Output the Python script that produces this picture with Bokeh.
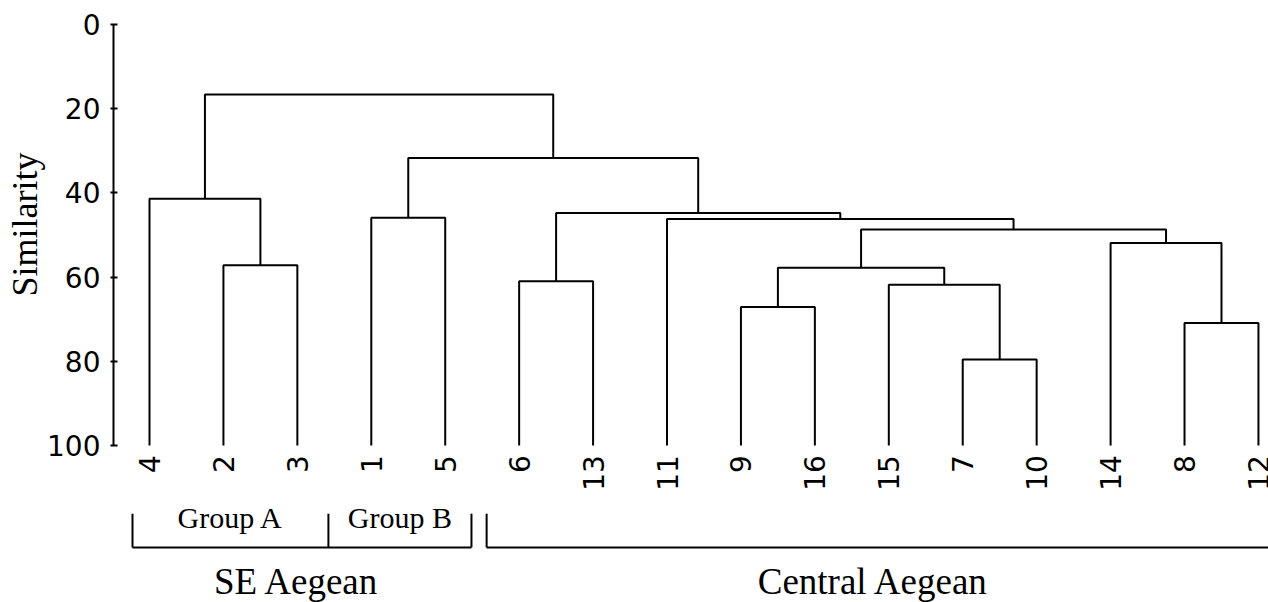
import math
from bokeh.plotting import figure
from bokeh.models import Range1d, FixedTicker, Title
from bokeh.core.properties import value
from bokeh.embed import file_html
from bokeh.resources import INLINE

# ---- data ----
leaves = ["4", "2", "3", "1", "5", "6", "13", "11", "9", "16", "15", "7", "10", "14", "8", "12"]
# merges in order: ids "mK" refer to the K-th merge
merge_left = ["2", "4", "1", "6", "9", "7", "15", "m4", "8", "14", "m7", "11", "m3", "m2", "m1"]
merge_right = ["3", "m0", "5", "13", "16", "10", "m5", "m6", "12", "m8", "m9", "m10", "m11", "m12", "m13"]
merge_similarity = [57.2, 41.4, 45.9, 61.0, 67.1, 79.6, 61.8, 57.8, 70.9, 51.9, 48.7, 46.2, 44.8, 31.7, 16.6]
leaf_similarity = 100
y_ticks = [0, 20, 40, 60, 80, 100]
group_names = ["Group A", "Group B"]
region_names = ["SE Aegean", "Central Aegean"]

# ---- dendrogram geometry from the merges ----
pos = {name: float(i) for i, name in enumerate(leaves)}
hgt = {name: float(leaf_similarity) for name in leaves}
xs, ys = [], []
for k, (l, r, s) in enumerate(zip(merge_left, merge_right, merge_similarity)):
    xs.append([pos[l], pos[l], pos[r], pos[r]])
    ys.append([hgt[l], s, s, hgt[r]])
    pos["m%d" % k] = (pos[l] + pos[r]) / 2
    hgt["m%d" % k] = s

W, H = 1268, 602
LEFT = 113
px_per_unit = 4.21
top_px = 24
leaf_px0, leaf_step = 149, 73.93

p = figure(width=W, height=H, output_backend="svg", toolbar_location=None,
           x_axis_location=None,
           x_range=Range1d((LEFT - leaf_px0) / leaf_step, (W - leaf_px0) / leaf_step),
           y_range=Range1d((H - top_px) / px_per_unit, -top_px / px_per_unit),
           min_border_left=LEFT, min_border_right=0, min_border_top=0, min_border_bottom=0)
p.outline_line_color = None
p.grid.visible = False
p.background_fill_color = "white"
p.border_fill_color = "white"

ax = p.yaxis[0]
ax.ticker = FixedTicker(ticks=y_ticks)
ax.bounds = (0, 100)
ax.axis_line_width = 2
ax.axis_line_color = "black"
ax.major_tick_line_width = 2
ax.major_tick_line_color = "black"
ax.major_tick_in = 4
ax.major_tick_out = 3
ax.minor_tick_line_color = None
ax.major_label_standoff = 10
ax.major_label_text_font = "DejaVu Sans"
ax.major_label_text_font_size = "28px"
ax.major_label_text_color = "black"

# axis title, placed along the 0-100 span of the axis
p.add_layout(Title(text="Similarity", align="right", offset=152, vertical_align="bottom",
                   standoff=0, text_font="Liberation Serif", text_font_size="36px",
                   text_font_style="normal", text_color="black"), "left")

p.multi_line(xs=xs, ys=ys, line_color="black", line_width=2)

# leaf labels
p.text(x=list(range(len(leaves))), y=[102.3] * len(leaves), text=leaves,
       angle=math.pi / 2, text_align="right", text_baseline="middle",
       text_font=value("DejaVu Sans"), text_font_size="28px", text_color="black")

# brackets
a_left, ab_div, b_right, c_left, c_right = -0.23, 2.42, 4.355, 4.56, 15.5
tick_top, bar_y = 116.2, 124.2
p.segment(x0=[a_left, ab_div, b_right, c_left, a_left, c_left],
          y0=[tick_top, tick_top, tick_top, tick_top, bar_y, bar_y],
          x1=[a_left, ab_div, b_right, c_left, b_right, c_right],
          y1=[bar_y, bar_y, bar_y, bar_y, bar_y, bar_y],
          line_color="black", line_width=2)

p.text(x=[(a_left + ab_div) / 2, (ab_div + b_right) / 2], y=[117.2, 117.2], text=group_names,
       text_align="center", text_baseline="alphabetic",
       text_font=value("Liberation Serif"), text_font_size="30px", text_color="black")
p.text(x=[1.99, 9.79], y=[132.3, 132.3], text=region_names,
       text_align="center", text_baseline="alphabetic",
       text_font=value("Liberation Serif"), text_font_size="37px", text_color="black")

open("out.html", "w").write(file_html(p, INLINE))
